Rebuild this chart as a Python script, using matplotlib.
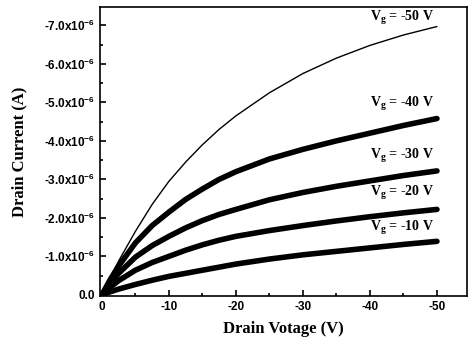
import matplotlib
matplotlib.use('Agg')
import matplotlib.pyplot as plt
from matplotlib.ticker import FixedLocator, FuncFormatter

plt.rcParams['mathtext.default'] = 'regular'

# drain voltage (V) and drain current for each gate voltage (x 1e-6 A)
vd = [0, -1.25, -2.5, -5, -7.5, -10, -12.5, -15, -17.5, -20, -25, -30, -35, -40, -45, -50]
id_50 = [0, -0.45, -0.88, -1.65, -2.35, -2.95, -3.45, -3.90, -4.30, -4.65, -5.25, -5.75, -6.15, -6.48, -6.75, -6.97]
id_40 = [0, -0.40, -0.75, -1.35, -1.80, -2.15, -2.48, -2.75, -3.00, -3.20, -3.53, -3.78, -4.00, -4.20, -4.40, -4.58]
id_30 = [0, -0.30, -0.56, -0.98, -1.28, -1.52, -1.74, -1.93, -2.09, -2.22, -2.47, -2.66, -2.82, -2.96, -3.10, -3.22]
id_20 = [0, -0.20, -0.37, -0.64, -0.84, -1.00, -1.16, -1.30, -1.42, -1.52, -1.67, -1.80, -1.92, -2.03, -2.13, -2.22]
id_10 = [0, -0.08, -0.15, -0.27, -0.38, -0.48, -0.56, -0.64, -0.72, -0.80, -0.93, -1.04, -1.13, -1.22, -1.31, -1.39]

curves = [id_50, id_40, id_30, id_20, id_10]
labels = ['-50', '-40', '-30', '-20', '-10']
widths = [1.0, 4.0, 4.0, 4.0, 4.0]
label_y = [-7.2, -4.95, -3.6, -2.65, -1.73]

fig = plt.figure(figsize=(4.69, 3.45), dpi=100)
ax = fig.add_axes([0.213, 0.142, 0.783, 0.838])

for cur, lw in zip(curves, widths):
    ax.plot(vd, [c * 1e-6 for c in cur], color='black', lw=lw, solid_capstyle='round')

# the Vg labels next to the curve ends
for lab, ly in zip(labels, label_y):
    ax.text(-49.6, ly * 1e-6, 'V$_{g}$ = ' + lab + ' V', ha='right', va='center',
            family='Liberation Serif', fontweight='bold', fontsize=10)

ax.set_xlim(0.3, -54.5)
ax.set_ylim(0.03e-6, -7.48e-6)

ax.xaxis.set_major_locator(FixedLocator([0, -10, -20, -30, -40, -50]))
ax.xaxis.set_minor_locator(FixedLocator([-5, -15, -25, -35, -45]))
ax.yaxis.set_major_locator(FixedLocator([i * -1e-6 for i in range(8)]))
ax.yaxis.set_minor_locator(FixedLocator([(i + 0.5) * -1e-6 for i in range(7)]))


def yfmt(v, pos):
    if abs(v) < 1e-12:
        return '0.0'
    return '%.1fx10$^{-6}$' % (v * 1e6)


ax.yaxis.set_major_formatter(FuncFormatter(yfmt))
ax.xaxis.set_major_formatter(FuncFormatter(lambda v, p: '%d' % round(v)))

ax.tick_params(which='both', direction='in', top=False, right=False, width=1.2)
ax.tick_params(which='major', length=4)
ax.tick_params(which='minor', length=2)
for t in ax.get_xticklabels() + ax.get_yticklabels():
    t.set_family('Liberation Sans')
    t.set_fontweight('bold')
    t.set_fontsize(8.5)
for s in ax.spines.values():
    s.set_linewidth(1.2)

ax.set_xlabel('Drain Votage (V)', family='Liberation Serif', fontweight='bold', fontsize=12, labelpad=6)
ax.set_ylabel('Drain Current (A)', family='Liberation Serif', fontweight='bold', fontsize=12, labelpad=12)

fig.savefig('out.png', dpi=100)
